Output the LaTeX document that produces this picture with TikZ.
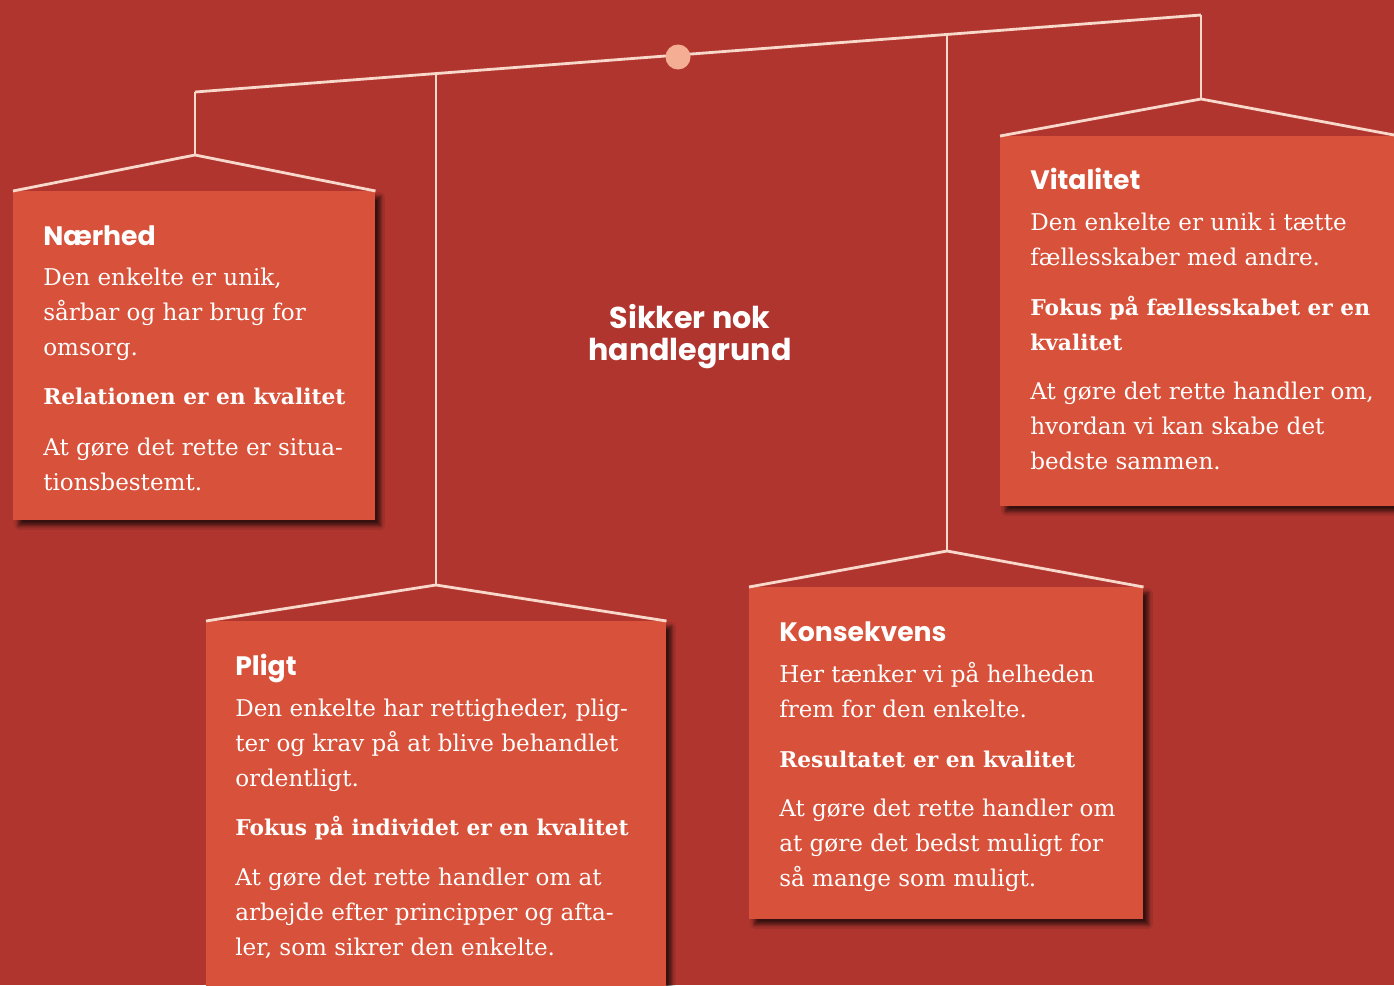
\documentclass[tikz,border=0pt]{standalone}
\usepackage{fontspec}
\setmainfont{DejaVu Serif}
\newfontfamily\titlefnt{Poppins}
\usetikzlibrary{shadows.blur}
\definecolor{bg}{HTML}{B0352F}
\definecolor{boxc}{HTML}{D8513A}
\definecolor{linec}{HTML}{F8D8CA}
\definecolor{dotc}{HTML}{F3AE93}
\newcommand\bodyfnt{\fontsize{17.3pt}{26.25pt}\selectfont}
\newcommand\boldfnt{\fontsize{16.3pt}{26.25pt}\selectfont\bfseries}
\newcommand\titfnt{\titlefnt\bfseries\fontsize{20pt}{24pt}\selectfont}
\newcommand\centfnt{\titlefnt\bfseries\fontsize{22.6pt}{24pt}\selectfont}
\newcommand\blk[1]{\parbox[t]{330pt}{\raggedright\bodyfnt #1}}
\newcommand\bblk[1]{\parbox[t]{330pt}{\raggedright\boldfnt #1}}
\tikzset{
  panel/.style={fill=boxc, draw=none, anchor=north west, inner sep=0pt,
    blur shadow={shadow xshift=4pt, shadow yshift=-4pt, shadow opacity=70, shadow blur steps=8, shadow blur radius=3pt}},
  hang/.style={draw=linec, line width=2.1pt, line join=miter},
  txt/.style={anchor=base west, inner sep=0pt, text=white, align=left},
  ttl/.style={txt, font=\titfnt},
  cnt/.style={anchor=base, inner sep=0pt, text=white, font=\centfnt},
}
\begin{document}
\begin{tikzpicture}[x=0.75pt,y=-0.75pt]
\fill[bg] (0,0) rectangle (1394,985);
\useasboundingbox (0,0) rectangle (1394,985);
\clip (0,0) rectangle (1394,985);
% beam
\coordinate (bL) at (195,92);
\coordinate (bR) at (1201,15);
\coordinate (hP) at (436,73.6);
\coordinate (hK) at (947,34.4);
\coordinate (aN) at (195,155);
\coordinate (aP) at (436,585);
\coordinate (aK) at (947,551);
\coordinate (aV) at (1201,99);
\coordinate (vE) at (1394,135);
% boxes
\node[panel, minimum width=362*0.75pt, minimum height=329*0.75pt] (nB) at (13,191) {};
\node[panel, minimum width=460*0.75pt, minimum height=380*0.75pt] (pB) at (206,621) {};
\node[panel, minimum width=394*0.75pt, minimum height=332*0.75pt] (kB) at (749,587) {};
\node[panel, minimum width=410*0.75pt, minimum height=370*0.75pt] (vB) at (1000,136) {};
% connectors
\draw[hang] (bL) -- (bR);
\draw[hang] (bL) -- (aN);
\draw[hang] (hP) -- (aP);
\draw[hang] (hK) -- (aK);
\draw[hang] (bR) -- (aV);
\draw[hang] (nB.north west) -- (aN) -- (nB.north east);
\draw[hang] (pB.north west) -- (aP) -- (pB.north east);
\draw[hang] (kB.north west) -- (aK) -- (kB.north east);
\draw[hang] (vB.north west) -- (aV) -- (vE);
\node[circle, fill=dotc, minimum size=25*0.75pt, inner sep=0pt] (pivot) at (678,57) {};
% center
\node[cnt] (c1) at (690,328) {Sikker nok};
\node[cnt] (c2) at (690,360) {handlegrund};
% Naerhed
\node[ttl] (n1) at (43,245) {Nærhed};
\node[txt] (n2) at (43,285) {\blk{Den enkelte er unik,\\ sårbar og har brug for\\ omsorg.}};
\node[txt] (n3) at (43,404) {\bblk{Relationen er en kvalitet}};
\node[txt] (n4) at (43,455) {\blk{At gøre det rette er situa-\\ tionsbestemt.}};
% Pligt
\node[ttl] (p1) at (235,675) {Pligt};
\node[txt] (p2) at (235,716) {\blk{Den enkelte har rettigheder, plig-\\ ter og krav på at blive behandlet\\ ordentligt.}};
\node[txt] (p3) at (235,835) {\bblk{Fokus på individet er en kvalitet}};
\node[txt] (p4) at (235,885) {\blk{At gøre det rette handler om at\\ arbejde efter principper og afta-\\ ler, som sikrer den enkelte.}};
% Konsekvens
\node[ttl] (k1) at (779,641) {Konsekvens};
\node[txt] (k2) at (779,682) {\blk{Her tænker vi på helheden\\ frem for den enkelte.}};
\node[txt] (k3) at (779,767) {\bblk{Resultatet er en kvalitet}};
\node[txt] (k4) at (779,816) {\blk{At gøre det rette handler om\\ at gøre det bedst muligt for\\ så mange som muligt.}};
% Vitalitet
\node[ttl] (v1) at (1030,189) {Vitalitet};
\node[txt] (v2) at (1030,230) {\blk{Den enkelte er unik i tætte\\ fællesskaber med andre.}};
\node[txt] (v3) at (1030,315) {\bblk{Fokus på fællesskabet er en\\ kvalitet}};
\node[txt] (v4) at (1030,399) {\blk{At gøre det rette handler om,\\ hvordan vi kan skabe det\\ bedste sammen.}};
\end{tikzpicture}
\end{document}
